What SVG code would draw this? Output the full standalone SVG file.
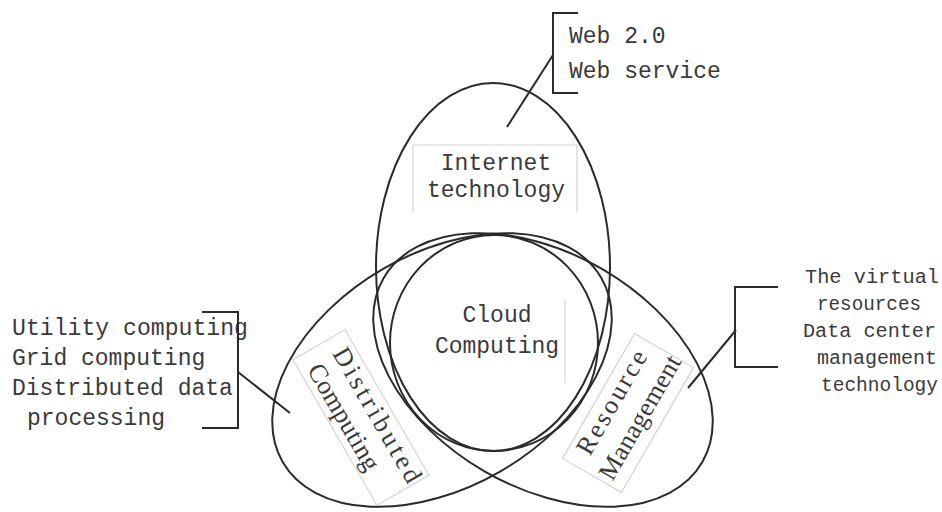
<svg xmlns="http://www.w3.org/2000/svg" width="942" height="512" viewBox="0 0 942 512">
<style>
.ell{fill:none;stroke:#2a2a2a;stroke-width:2}
.ln{fill:none;stroke:#2a2a2a;stroke-width:2}
.box{fill:none;stroke:#d4d4d4;stroke-width:1.2}
.mono{font-family:"Liberation Mono","DejaVu Sans Mono",monospace;fill:#3a3a3a;font-size:23px}
.rt{font-family:"Liberation Mono","DejaVu Sans Mono",monospace;fill:#3a3a3a;font-size:20px}
.serif{font-family:"Liberation Serif","DejaVu Serif",serif;fill:#3a3a3a;font-size:26px;text-anchor:middle}
.mid{text-anchor:middle}
</style>
<rect width="942" height="512" fill="#ffffff"/>
<g id="internet">
  <ellipse class="ell" cx="493" cy="267" rx="117" ry="184"/>
  <path class="box" d="M413,212 V145 H577 V212"/>
  <text class="mono mid" x="496" y="170" font-size="22">Internet</text>
  <text class="mono mid" x="496" y="197" font-size="22">technology</text>
</g>
<g id="distributed">
  <ellipse class="ell" cx="442" cy="370" rx="184" ry="117" transform="rotate(-30 442 370)"/>
  <g transform="translate(367 414) rotate(60)">
    <rect class="box" x="-84" y="-23" width="168" height="60"/>
    <text class="serif" x="6" y="0" textLength="152" lengthAdjust="spacing">Distributed</text>
    <text class="serif" x="-9" y="30" textLength="119" lengthAdjust="spacing">Computing</text>
  </g>
</g>
<g id="resource">
  <ellipse class="ell" cx="543" cy="370" rx="184" ry="117" transform="rotate(30 543 370)"/>
  <g transform="translate(628 413) rotate(-60)">
    <rect class="box" x="-72" y="-34" width="144" height="68"/>
    <text class="serif" x="1" y="-11" textLength="116" lengthAdjust="spacing">Resource</text>
    <text class="serif" x="2" y="21" textLength="139" lengthAdjust="spacing">Management</text>
  </g>
</g>
<g id="cloud">
  <ellipse class="ell" cx="494" cy="343" rx="104" ry="108"/>
  <line class="box" x1="565" y1="300" x2="565" y2="383"/>
  <text class="mono mid" x="497" y="322">Cloud</text>
  <text class="mono mid" x="497" y="353">Computing</text>
</g>
<g id="web-notes">
  <text class="mono" x="569" y="43">Web 2.0</text>
  <text class="mono" x="569" y="78">Web service</text>
</g>
<g id="left-notes">
  <text class="mono" x="12" y="335" textLength="236" lengthAdjust="spacingAndGlyphs">Utility computing</text>
  <text class="mono" x="12" y="365">Grid computing</text>
  <text class="mono" x="12" y="395">Distributed data</text>
  <text class="mono" x="27" y="425">processing</text>
</g>
<g id="right-notes">
  <text class="rt" x="805" y="283" textLength="134" lengthAdjust="spacingAndGlyphs">The virtual</text>
  <text class="rt" x="817" y="310" textLength="104" lengthAdjust="spacingAndGlyphs">resources</text>
  <text class="rt" x="803" y="337" textLength="133" lengthAdjust="spacingAndGlyphs">Data center</text>
  <text class="rt" x="817" y="364" textLength="120" lengthAdjust="spacingAndGlyphs">management</text>
  <text class="rt" x="821" y="391" textLength="117" lengthAdjust="spacingAndGlyphs">technology</text>
</g>
<g id="connectors">
  <path class="ln" d="M578,13 H553 V93 H578"/>
  <line class="ln" x1="553" y1="55" x2="507" y2="127"/>
  <path class="ln" d="M202,312 H238 V428 H202"/>
  <line class="ln" x1="238" y1="372" x2="290" y2="413"/>
  <path class="ln" d="M778,287 H735 V367 H778"/>
  <line class="ln" x1="736" y1="330" x2="688" y2="388"/>
</g>
</svg>
